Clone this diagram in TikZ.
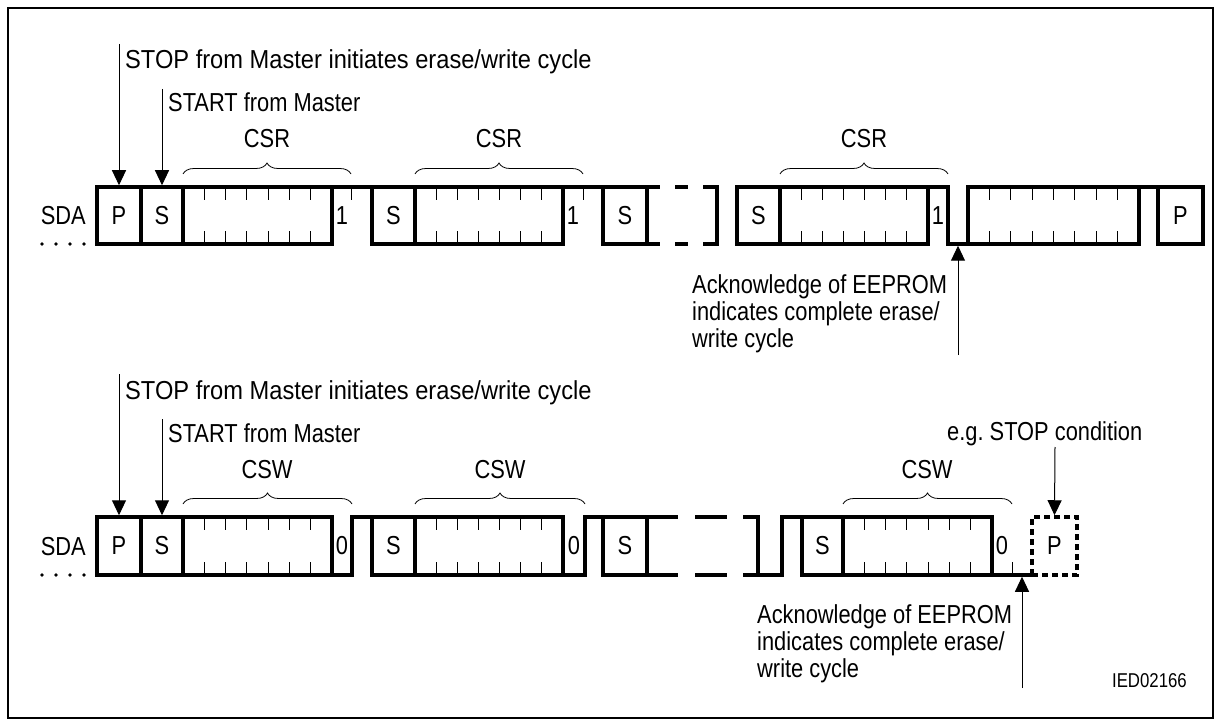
\documentclass[tikz,border=0pt]{standalone}
\usepackage{fontspec}
\setmainfont{Liberation Sans}[FakeStretch=0.84]
\newfontfamily\widefont{Liberation Sans}[FakeStretch=0.91]
\usetikzlibrary{arrows.meta,decorations.pathreplacing}
\newcommand{\wbox}[7][]{\node[wbox,#1, minimum width={(#4)-(#3)}, minimum height={(#6)-(#5)}] (#2) at ({((#3)+(#4))/2},{((#5)+(#6))/2}) {#7};}
\newcommand{\dticks}[5]{%
  \foreach \k in {1,...,#3}{%
    \pgfmathsetmacro{\xx}{(#1)+\k*((#2)-(#1))/((#3)+1)}
    \draw[tick] (\xx,#4) -- (\xx,#4+13) (\xx,#5) -- (\xx,#5-13);}}
\begin{document}
\begin{tikzpicture}[x=1pt,y=-1pt,
  txt/.style={inner sep=0pt, font=\fontsize{26}{27}\selectfont},
  wtxt/.style={inner sep=0pt, font=\widefont\fontsize{26}{27}\selectfont},
  wbox/.style={draw, line width=3.5pt, inner sep=0pt, outer sep=0pt, font=\fontsize{26}{31}\selectfont},
  wave/.style={line width=3.5pt},
  tick/.style={line width=0.8pt},
  ptr/.style={line width=1pt, -{Triangle[width=14pt,length=15pt]}},
  brc/.style={decorate, decoration={brace, amplitude=11pt}, line width=0.8pt},
  dotm/.style={fill=black},
]
\useasboundingbox (0,0) rectangle (1221,727);
\draw[line width=2pt] (8,8) rectangle (1213,718);

% ================= Row 1 (CSR) =================
\node[txt, anchor=base east] (sda1) at (86,225) {SDA};
\foreach \xx in {42,56,70,84} \fill[dotm] (\xx,244) circle (1.8pt);
\wbox{p1}{97}{141}{187}{244}{P}
\wbox{s1}{141}{183}{187}{244}{S}
\wbox{d1a}{183}{332}{187}{244}{}
\dticks{183}{332}{6}{187}{244}
\draw[wave] (332,187) -- (372,187);
\draw[tick] (351,187) -- (351,200);
\node[txt] (one1a) at (342,215.5) {1};
\wbox{s1b}{372}{415}{187}{244}{S}
\wbox{d1b}{415}{563}{187}{244}{}
\dticks{415}{563}{6}{187}{244}
\draw[wave] (563,187) -- (603,187);
\draw[tick] (583,187) -- (583,200);
\node[txt] (one1b) at (573,215.5) {1};
\wbox{s1c}{603}{647}{187}{244}{S}
\draw[wave] (647,187) -- (660,187) (647,244) -- (660,244)
  (675,187) -- (688,187) (675,244) -- (688,244)
  (703,187) -- (717,187) -- (717,244) -- (703,244);
\wbox{s1d}{737}{780}{187}{244}{S}
\wbox{d1d}{780}{928}{187}{244}{}
\dticks{780}{928}{6}{187}{244}
\draw[wave] (928,187) -- (948,187) -- (948,244) -- (968,244) -- (968,187);
\node[txt] (one1c) at (938,215.5) {1};
\wbox{d1e}{968}{1139}{187}{244}{}
\dticks{968}{1139}{7}{187}{244}
\draw[wave] (1139,187) -- (1158,187);
\wbox{p1e}{1158}{1203}{187}{244}{P}

\draw[brc] (183,174) -- (351,174);
\draw[brc] (415,174) -- (583,174);
\draw[brc] (780,174) -- (948,174);
\node[txt, anchor=base] (csr1) at (267,148) {CSR};
\node[txt, anchor=base] (csr2) at (499,148) {CSR};
\node[txt, anchor=base] (csr3) at (864,148) {CSR};

\node[wtxt, anchor=base west] (stop1) at (125,69) {STOP from Master initiates erase/write cycle};
\coordinate (stop1a) at (119,44);
\draw[ptr] (stop1a) -- ([yshift=1.75pt]p1.north);
\node[txt, anchor=base west] (start1) at (168,112) {START from Master};
\coordinate (start1a) at (162,89);
\draw[ptr] (start1a) -- ([yshift=1.75pt]s1.north);

\node[txt, align=left, anchor=north west] (ack1) at (692,274)
  {Acknowledge of EEPROM\\indicates complete erase/\\write cycle};
\coordinate (ack1a) at (958,355);
\coordinate (ack1b) at (958,245.75);
\draw[ptr] (ack1a) -- (ack1b);

% ================= Row 2 (CSW) =================
\node[txt, anchor=base east] (sda2) at (86,555) {SDA};
\foreach \xx in {42,56,70,84} \fill[dotm] (\xx,575) circle (1.8pt);
\wbox{p2}{97}{141}{517}{575}{P}
\wbox{s2}{141}{183}{517}{575}{S}
\wbox{d2a}{183}{332}{517}{575}{}
\dticks{183}{332}{6}{517}{575}
\draw[wave] (332,575) -- (352,575) -- (352,517) -- (372,517);
\node[txt] (zero2a) at (342,546) {0};
\wbox{s2b}{372}{415}{517}{575}{S}
\wbox{d2b}{415}{563}{517}{575}{}
\dticks{415}{563}{6}{517}{575}
\draw[wave] (563,575) -- (585,575) -- (585,517) -- (603,517);
\node[txt] (zero2b) at (574,546) {0};
\wbox{s2c}{603}{647}{517}{575}{S}
\draw[wave] (647,517) -- (678,517) (647,575) -- (678,575)
  (695,517) -- (727,517) (695,575) -- (727,575)
  (743,517) -- (758,517) -- (758,575)
  (743,575) -- (782,575) -- (782,517) -- (802,517);
\wbox{s2d}{802}{843}{517}{575}{S}
\wbox{d2d}{843}{992}{517}{575}{}
\dticks{843}{992}{6}{517}{575}
\draw[wave] (992,575) -- (1032,575);
\draw[tick] (1012,575) -- (1012,562);
\node[txt] (zero2c) at (1002,546) {0};
\wbox[dash pattern=on 6pt off 4pt]{p2e}{1032}{1077}{517}{575}{P}

\draw[brc] (183,504) -- (352,504);
\draw[brc] (415,504) -- (585,504);
\draw[brc] (843,504) -- (1012,504);
\node[txt, anchor=base] (csw1) at (267,478) {CSW};
\node[txt, anchor=base] (csw2) at (500,478) {CSW};
\node[txt, anchor=base] (csw3) at (927,478) {CSW};

\node[wtxt, anchor=base west] (stop2) at (125,399) {STOP from Master initiates erase/write cycle};
\coordinate (stop2a) at (119,374);
\draw[ptr] (stop2a) -- ([yshift=1.75pt]p2.north);
\node[txt, anchor=base west] (start2) at (168,442) {START from Master};
\coordinate (start2a) at (162,419);
\draw[ptr] (start2a) -- ([yshift=1.75pt]s2.north);

\node[txt, anchor=base west] (eg) at (947,440) {e.g.\ STOP condition};
\coordinate (eg1) at (1055,447);
\draw[ptr] (eg1) -- ([yshift=1.75pt]p2e.north);

\node[txt, align=left, anchor=north west] (ack2) at (757,604)
  {Acknowledge of EEPROM\\indicates complete erase/\\write cycle};
\coordinate (ack2a) at (1022,688);
\coordinate (ack2b) at (1022,576.75);
\draw[ptr] (ack2a) -- (ack2b);

\node[txt, font=\fontsize{20}{24}\selectfont, anchor=base east] (ied) at (1187,687) {IED02166};
\end{tikzpicture}
\end{document}
